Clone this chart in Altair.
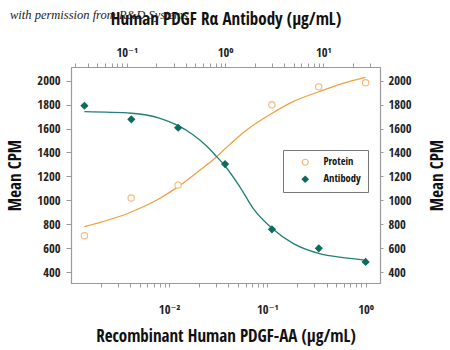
import altair as alt
import pandas as pd

# ---- data ----
protein_conc = [0.00137, 0.0041, 0.0123, 0.111, 0.333, 1.0]
protein_cpm = [704, 1019, 1127, 1799, 1949, 1983]
antibody_conc = [0.037, 0.111, 0.333, 1.0, 3.0, 9.0, 27.0]
antibody_cpm = [1791, 1677, 1607, 1303, 757, 598, 484]

protein_fit_conc = [0.00137, 0.00416, 0.00806, 0.01237, 0.0206, 0.0304, 0.0375,
                    0.0614, 0.1116, 0.1824, 0.3327, 0.5878, 1.0]
protein_fit_cpm = [779, 904, 1017, 1114, 1253, 1365, 1435, 1588, 1728, 1825, 1908, 1979, 2029]
antibody_fit_conc = [0.037, 0.112, 0.218, 0.334, 0.475, 0.649, 0.821, 1.0, 1.41, 1.93,
                     3.0, 4.92, 8.98, 15.9, 27.0]
antibody_fit_cpm = [1741, 1728, 1686, 1624, 1546, 1454, 1365, 1287, 1114, 933, 766, 640,
                    556, 520, 500]

series_names = ["Protein", "Antibody"]
y_ticks = [400, 600, 800, 1000, 1200, 1400, 1600, 1800, 2000]
bottom_ticks = [0.002, 0.003, 0.004, 0.005, 0.006, 0.007, 0.008, 0.009,
                0.01, 0.02, 0.03, 0.04, 0.05, 0.06, 0.07, 0.08, 0.09,
                0.1, 0.2, 0.3, 0.4, 0.5, 0.6, 0.7, 0.8, 0.9, 1.0]
top_ticks = [0.03, 0.04, 0.05, 0.06, 0.07, 0.08, 0.09,
             0.1, 0.2, 0.3, 0.4, 0.5, 0.6, 0.7, 0.8, 0.9,
             1, 2, 3, 4, 5, 6, 7, 8, 9, 10, 20, 30]
bottom_labels = {0.01: "10⁻²", 0.1: "10⁻¹", 1.0: "10⁰"}
top_labels = {0.1: "10⁻¹", 1: "10⁰", 10: "10¹"}
watermark = "with permission from R&D Systems"

ORANGE = "#F0A040"
ORANGE_LIGHT = "#F2B878"
TEAL = "#0E6B5E"
GRAY = "#9a9a9a"
FONT = "Open Sans Condensed, DejaVu Sans Condensed, sans-serif"


def label_expr(mapping):
    parts = [f"datum.value == {k} ? '{v}'" for k, v in mapping.items()]
    return " : ".join(parts) + " : ''"


df_p = pd.DataFrame({"conc": protein_conc, "cpm": protein_cpm, "series": "Protein"})
df_a = pd.DataFrame({"conc": antibody_conc, "cpm": antibody_cpm, "series": "Antibody"})
df_pf = pd.DataFrame({"conc": protein_fit_conc, "cpm": protein_fit_cpm})
df_af = pd.DataFrame({"conc": antibody_fit_conc, "cpm": antibody_fit_cpm})
df_w = pd.DataFrame({"t": [watermark]})

y_scale = alt.Scale(domain=[308, 2115], nice=False, zero=False)
bx_scale = alt.Scale(type="log", domain=[0.001, 1.4], nice=False)
tx_scale = alt.Scale(type="log", domain=[0.027, 37.8], nice=False)

bottom_axis = alt.Axis(orient="bottom", values=bottom_ticks, labelExpr=label_expr(bottom_labels),
                       title="Recombinant Human PDGF-AA (μg/mL)", tickSize=4, labelPadding=16,
                       titlePadding=13, labelOverlap=False, grid=False)
top_axis = alt.Axis(orient="top", values=top_ticks, labelExpr=label_expr(top_labels),
                    title="Human PDGF Rα Antibody (μg/mL)", tickSize=4, labelPadding=4,
                    titlePadding=18, labelOverlap=False, grid=False)
left_axis = alt.Axis(orient="left", values=y_ticks, format="d", title="Mean CPM", tickSize=5,
                     labelPadding=6, titlePadding=12, grid=False)
right_axis = alt.Axis(orient="right", values=y_ticks, format="d", title="Mean CPM", tickSize=3,
                      labelPadding=5, titlePadding=18, titleAngle=270, titleBaseline="top",
                      grid=False)

legend = alt.Legend(title=None, orient="none", legendX=212, legendY=83,
                    strokeColor="#777", fillColor="white", padding=7, symbolOffset=10,
                    labelOffset=13, rowPadding=5, symbolSize=36, symbolStrokeWidth=1.2,
                    labelFontSize=10.5, labelFont=FONT, labelFontWeight="bold",
                    labelColor="#111")

stroke_enc = alt.Stroke("series:N", scale=alt.Scale(domain=series_names, range=[ORANGE_LIGHT, TEAL]),
                        legend=legend)
fill_enc = alt.Fill("series:N", scale=alt.Scale(domain=series_names, range=["white", TEAL]),
                    legend=legend)
shape_enc = alt.Shape("series:N", scale=alt.Scale(domain=series_names, range=["circle", "diamond"]),
                      legend=legend)

p_line = alt.Chart(df_pf).mark_line(color=ORANGE, strokeWidth=1.3, interpolate="monotone").encode(
    x=alt.X("conc:Q", scale=bx_scale, axis=bottom_axis),
    y=alt.Y("cpm:Q", scale=y_scale, axis=left_axis),
)
p_pts = alt.Chart(df_p).mark_point(size=40, filled=False, strokeWidth=1.1, opacity=1).encode(
    x=alt.X("conc:Q", scale=bx_scale, axis=bottom_axis),
    y=alt.Y("cpm:Q", scale=y_scale, axis=left_axis),
    stroke=stroke_enc, fill=fill_enc, shape=shape_enc,
)
a_line = alt.Chart(df_af).mark_line(color="#1F7F74", strokeWidth=1.3, interpolate="monotone").encode(
    x=alt.X("conc:Q", scale=tx_scale, axis=top_axis),
    y=alt.Y("cpm:Q", scale=y_scale, axis=right_axis),
)
a_pts = alt.Chart(df_a).mark_point(size=44, filled=False, strokeWidth=1.1, opacity=1).encode(
    x=alt.X("conc:Q", scale=tx_scale, axis=top_axis),
    y=alt.Y("cpm:Q", scale=y_scale, axis=right_axis),
    stroke=stroke_enc, fill=fill_enc, shape=shape_enc,
)
wm = alt.Chart(df_w).mark_text(align="left", baseline="alphabetic", font="Liberation Serif",
                               fontStyle="italic", fontSize=12.5, color="#222").encode(
    x=alt.value(-61), y=alt.value(-48), text="t:N")

bottom = alt.layer(p_line, p_pts)
top = alt.layer(a_line, a_pts)

chart = alt.layer(bottom, top, wm).resolve_scale(x="independent", y="independent").properties(
    width=309, height=216,
    background="white",
    autosize=alt.AutoSizeParams(type="none"),
    padding={"left": 71, "top": 67, "right": 70, "bottom": 67},
).configure_view(stroke=GRAY, strokeWidth=1).configure_axis(
    labelFont=FONT, labelFontSize=12.5, labelColor="#222",
    titleFont=FONT, titleFontSize=17, titleFontWeight="bold", titleColor="#111",
    domainColor=GRAY, domainWidth=1.2, tickColor=GRAY, grid=False,
)

chart.save("out.html", embed_options={"renderer": "svg", "actions": False})
